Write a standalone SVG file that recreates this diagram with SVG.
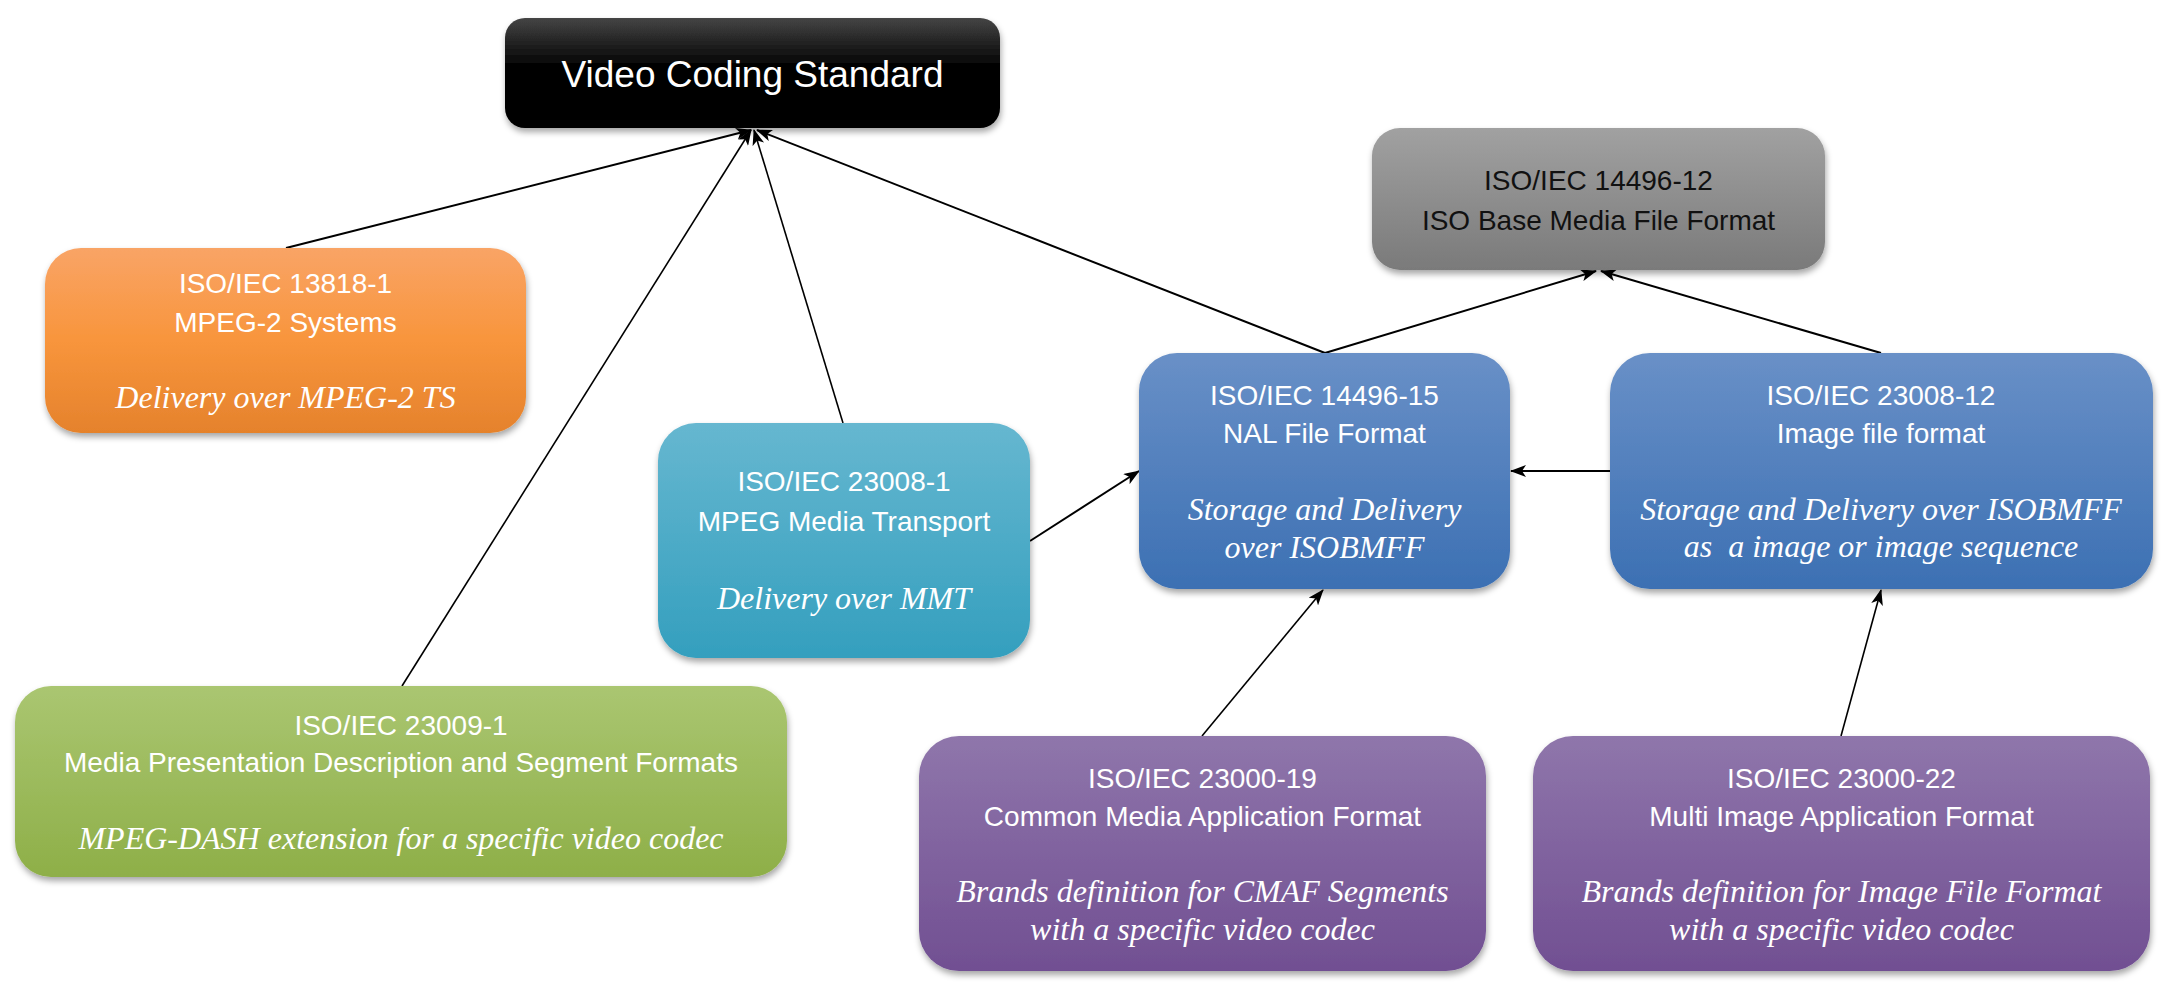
<svg xmlns="http://www.w3.org/2000/svg" width="2172" height="988" viewBox="0 0 2172 988">
<style>
.t{font-family:"Liberation Sans",Arial,sans-serif;font-size:28px;fill:#fff;text-anchor:middle}
.i{font-family:"Liberation Serif","Times New Roman",serif;font-style:italic;font-size:32px;fill:#fff;text-anchor:middle}
.c{stroke:#000;stroke-width:2;fill:none}
.n{stroke:#000;stroke-width:1.6;fill:none}
</style>
<defs>
<marker id="ah" markerUnits="userSpaceOnUse" markerWidth="16" markerHeight="12" viewBox="0 0 16 12" refX="15" refY="6" orient="auto">
<path d="M0,0 L16,6 L0,12 L4,6 z" fill="#000"/>
</marker>
<filter id="sh" x="-10%" y="-10%" width="120%" height="130%">
<feDropShadow dx="1" dy="4" stdDeviation="3" flood-color="#000" flood-opacity="0.35"/>
</filter>
<linearGradient id="gBlack" x1="0" y1="0" x2="0" y2="1"><stop offset="0" stop-color="#454545"/><stop offset="0.45" stop-color="#000"/><stop offset="1" stop-color="#000"/></linearGradient>
<linearGradient id="gGray" x1="0" y1="0" x2="0" y2="1"><stop offset="0" stop-color="#a1a1a1"/><stop offset="1" stop-color="#7a7a7a"/></linearGradient>
<linearGradient id="gOrange" x1="0" y1="0" x2="0" y2="1"><stop offset="0" stop-color="#f9a466"/><stop offset="0.5" stop-color="#f8953c"/><stop offset="1" stop-color="#e5822c"/></linearGradient>
<linearGradient id="gTeal" x1="0" y1="0" x2="0" y2="1"><stop offset="0" stop-color="#66b7d0"/><stop offset="1" stop-color="#349fbe"/></linearGradient>
<linearGradient id="gGreen" x1="0" y1="0" x2="0" y2="1"><stop offset="0" stop-color="#aac671"/><stop offset="1" stop-color="#8eaf48"/></linearGradient>
<linearGradient id="gBlue" x1="0" y1="0" x2="0" y2="1"><stop offset="0" stop-color="#6990c7"/><stop offset="1" stop-color="#3c70b3"/></linearGradient>
<linearGradient id="gPurple" x1="0" y1="0" x2="0" y2="1"><stop offset="0" stop-color="#8f76ab"/><stop offset="1" stop-color="#714f92"/></linearGradient>
</defs>
<rect width="2172" height="988" fill="#fff"/>

<g id="connectors">
<line class="c" x1="286" y1="248" x2="751" y2="130" marker-end="url(#ah)"/>
<line class="n" x1="402" y1="686" x2="751" y2="130" marker-end="url(#ah)"/>
<line class="n" x1="843" y1="423" x2="754" y2="130" marker-end="url(#ah)"/>
<line class="c" x1="1325" y1="353" x2="757" y2="130" marker-end="url(#ah)"/>
<line class="c" x1="1325" y1="353" x2="1596" y2="271" marker-end="url(#ah)"/>
<line class="c" x1="1881" y1="353" x2="1601" y2="271" marker-end="url(#ah)"/>
<line class="c" x1="1610" y1="471" x2="1511" y2="471" marker-end="url(#ah)"/>
<line class="c" x1="1030" y1="541" x2="1139" y2="471" marker-end="url(#ah)"/>
<line class="n" x1="1202" y1="736" x2="1323" y2="590" marker-end="url(#ah)"/>
<line class="n" x1="1841" y1="736" x2="1881" y2="590" marker-end="url(#ah)"/>
</g>

<g id="video-coding-standard">
<rect x="505" y="18" width="495" height="110" rx="20" fill="url(#gBlack)" filter="url(#sh)"/>
<text class="t" x="752.5" y="87" style="font-size:37px">Video Coding Standard</text>
</g>

<g id="isobmff">
<rect x="1372" y="128" width="453" height="142" rx="28" fill="url(#gGray)" filter="url(#sh)"/>
<text class="t" x="1598.5" y="190" style="fill:#111">ISO/IEC 14496-12</text>
<text class="t" x="1598.5" y="230" style="fill:#111">ISO Base Media File Format</text>
</g>

<g id="mpeg2-systems">
<rect x="45" y="248" width="481" height="185" rx="36" fill="url(#gOrange)" filter="url(#sh)"/>
<text class="t" x="285.5" y="293">ISO/IEC 13818-1</text>
<text class="t" x="285.5" y="332">MPEG-2 Systems</text>
<text class="i" x="285.5" y="408">Delivery over MPEG-2 TS</text>
</g>

<g id="mmt">
<rect x="658" y="423" width="372" height="235" rx="38" fill="url(#gTeal)" filter="url(#sh)"/>
<text class="t" x="844" y="491">ISO/IEC 23008-1</text>
<text class="t" x="844" y="531">MPEG Media Transport</text>
<text class="i" x="844" y="609">Delivery over MMT</text>
</g>

<g id="dash">
<rect x="15" y="686" width="772" height="191" rx="36" fill="url(#gGreen)" filter="url(#sh)"/>
<text class="t" x="401" y="735">ISO/IEC 23009-1</text>
<text class="t" x="401" y="772">Media Presentation Description and Segment Formats</text>
<text class="i" x="401" y="849">MPEG-DASH extension for a specific video codec</text>
</g>

<g id="nal-file-format">
<rect x="1139" y="353" width="371" height="236" rx="38" fill="url(#gBlue)" filter="url(#sh)"/>
<text class="t" x="1324.5" y="405">ISO/IEC 14496-15</text>
<text class="t" x="1324.5" y="443">NAL File Format</text>
<text class="i" x="1324.5" y="520">Storage and Delivery</text>
<text class="i" x="1324.5" y="558">over ISOBMFF</text>
</g>

<g id="image-file-format">
<rect x="1610" y="353" width="543" height="236" rx="40" fill="url(#gBlue)" filter="url(#sh)"/>
<text class="t" x="1881" y="405">ISO/IEC 23008-12</text>
<text class="t" x="1881" y="443">Image file format</text>
<text class="i" x="1881" y="520">Storage and Delivery over ISOBMFF</text>
<text class="i" x="1881" y="557" xml:space="preserve">as  a image or image sequence</text>
</g>

<g id="cmaf">
<rect x="919" y="736" width="567" height="235" rx="40" fill="url(#gPurple)" filter="url(#sh)"/>
<text class="t" x="1202.5" y="788">ISO/IEC 23000-19</text>
<text class="t" x="1202.5" y="826">Common Media Application Format</text>
<text class="i" x="1202.5" y="902">Brands definition for CMAF Segments</text>
<text class="i" x="1202.5" y="940">with a specific video codec</text>
</g>

<g id="miaf">
<rect x="1533" y="736" width="617" height="235" rx="40" fill="url(#gPurple)" filter="url(#sh)"/>
<text class="t" x="1841.5" y="788">ISO/IEC 23000-22</text>
<text class="t" x="1841.5" y="826">Multi Image Application Format</text>
<text class="i" x="1841.5" y="902">Brands definition for Image File Format</text>
<text class="i" x="1841.5" y="940">with a specific video codec</text>
</g>
</svg>
